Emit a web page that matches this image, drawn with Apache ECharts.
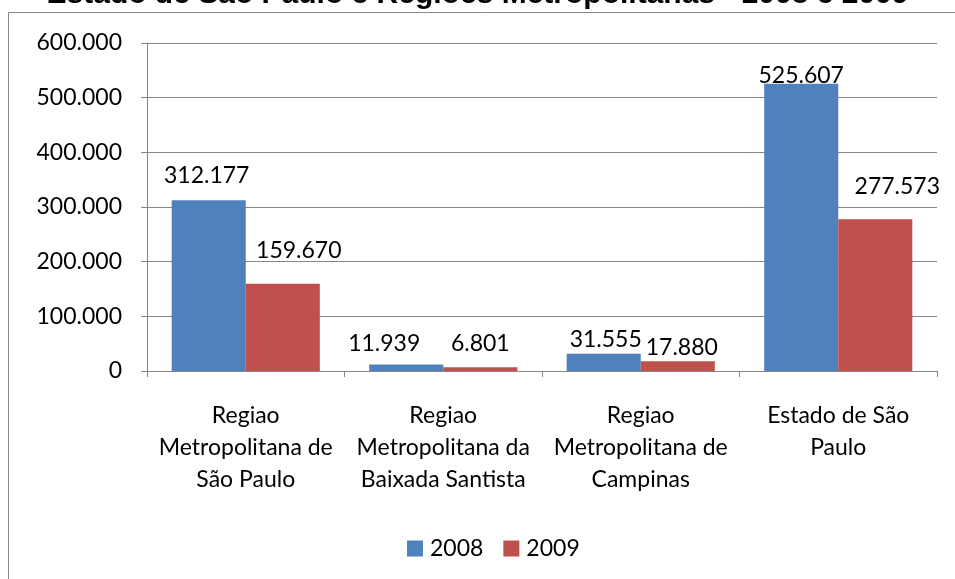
<!DOCTYPE html>
<html>
<head>
<meta charset="utf-8">
<script src="https://cdn.jsdelivr.net/npm/echarts@6/dist/echarts.min.js"></script>
<style>
html,body{margin:0;padding:0;background:#fff;}
#chart{width:955px;height:579px;}
</style>
</head>
<body>
<div id="chart"></div>
<script>
const titleText = 'Estado de São Paulo e Regiões Metropolitanas - 2008 e 2009';
const categories = [
  'Regiao\nMetropolitana de\nSão Paulo',
  'Regiao\nMetropolitana da\nBaixada Santista',
  'Regiao\nMetropolitana de\nCampinas',
  'Estado de São\nPaulo'
];
const seriesNames = ['2008', '2009'];
const values2008 = [312177, 11939, 31555, 525607];
const values2009 = [159670, 6801, 17880, 277573];
const yTicks = [0, 100000, 200000, 300000, 400000, 500000, 600000];

// label nudges (style, not data): [dx, dy] in px
const nudge2008 = [[-2, -13], [-22, -9], [2, -3], [0, 3]];
const nudge2009 = [[16, -22], [0, -12], [4, -2], [22, -21]];

function fmt(v) {
  return String(Math.round(v)).replace(/\B(?=(\d{3})+(?!\d))/g, '.');
}
const FONT = 'Lato';
const FS = 23;
const GRAY = '#868686';

function buildData(vals, nudges) {
  return vals.map((v, i) => ({ value: v, label: { offset: nudges[i] } }));
}

const chart = echarts.init(document.getElementById('chart'), null, { renderer: 'canvas' });
chart.setOption({
  animation: false,
  backgroundColor: '#fff',
  title: {
    text: titleText,
    left: 'center',
    top: -25,
    textStyle: { fontFamily: 'Liberation Sans', fontWeight: 'bold', fontSize: 30, color: '#000' }
  },
  graphic: [{
    type: 'rect',
    shape: { x: 8.5, y: 12.5, width: 1000, height: 1000 },
    style: { fill: 'none', stroke: GRAY, lineWidth: 1 },
    silent: true,
    z: -1
  }],
  legend: {
    data: seriesNames,
    left: 407,
    top: 537,
    padding: 0,
    itemWidth: 16,
    itemHeight: 16,
    itemGap: 20,
    icon: 'rect',
    textStyle: { fontFamily: FONT, fontSize: FS, color: '#000', padding: [0, 0, 0, 2] }
  },
  grid: { left: 147, right: 18, top: 43, bottom: 208, containLabel: false },
  xAxis: {
    type: 'category',
    data: categories,
    axisLine: { lineStyle: { color: GRAY, width: 1 } },
    axisTick: { show: true, length: 6, lineStyle: { color: GRAY } },
    axisLabel: {
      fontFamily: FONT, fontSize: FS, color: '#000', lineHeight: 32, margin: 29, interval: 0
    }
  },
  yAxis: {
    type: 'value',
    min: yTicks[0],
    max: yTicks[yTicks.length - 1],
    interval: yTicks[1] - yTicks[0],
    axisLine: { show: true, lineStyle: { color: GRAY, width: 1 } },
    axisTick: { show: true, length: 6, lineStyle: { color: GRAY } },
    splitLine: { show: true, lineStyle: { color: GRAY, width: 1 } },
    axisLabel: { fontFamily: FONT, fontSize: FS, color: '#000', margin: 25, formatter: fmt }
  },
  series: [
    {
      name: seriesNames[0], type: 'bar', data: buildData(values2008, nudge2008),
      barGap: '0%', barCategoryGap: '25%',
      itemStyle: { color: '#4F81BD' },
      label: { show: true, position: 'top', distance: 0, fontFamily: FONT, fontSize: FS, color: '#000', formatter: p => fmt(p.value) }
    },
    {
      name: seriesNames[1], type: 'bar', data: buildData(values2009, nudge2009),
      barGap: '0%', barCategoryGap: '25%',
      itemStyle: { color: '#C0504D' },
      label: { show: true, position: 'top', distance: 0, fontFamily: FONT, fontSize: FS, color: '#000', formatter: p => fmt(p.value) }
    }
  ]
});
</script>
</body>
</html>
